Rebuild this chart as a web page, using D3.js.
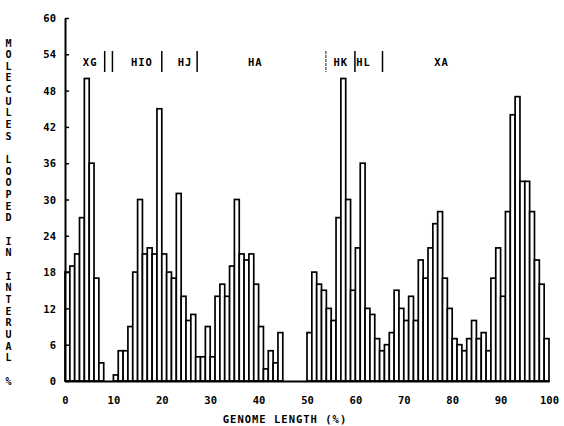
<!DOCTYPE html>
<meta charset="utf-8">
<body style="margin:0;background-color:white;">
<svg width="564" height="426"></svg>
<script src="https://d3js.org/d3.v7.min.js"></script>
<script>

// molecules looped in each 1% interval of the genome (bins 0-1, 1-2, ... 99-100)
var binStart = d3.range(0, 100);
var looped = [18, 19, 21, 27, 50, 36, 17, 3, 0, 0,
			  1, 5, 5, 9, 18, 30, 21, 22, 21, 45,
			  21, 18, 17, 31, 14, 10, 11, 4, 4, 9,
			  4, 14, 16, 14, 19, 30, 21, 20, 21, 16,
			  9, 2, 5, 3, 8, 0, 0, 0, 0, 0,
			  8, 18, 16, 15, 12, 10, 27, 50, 30, 15,
			  22, 36, 12, 11, 7, 5, 6, 8, 15, 12,
			  10, 14, 10, 20, 17, 22, 26, 28, 17, 12,
			  7, 6, 5, 7, 10, 7, 8, 5, 17, 22,
			  14, 28, 44, 47, 33, 33, 28, 20, 16, 7];

var yTicks = [0, 6, 12, 18, 24, 30, 36, 42, 48, 54, 60];
var xTicks = [0, 10, 20, 30, 40, 50, 60, 70, 80, 90, 100];

// map of the genome above the bars
var regionNames = ["XG", "HIO", "HJ", "HA", "HK", "HL", "XA"];
var regionCenters = [5.2, 15.9, 24.8, 39.3, 57.0, 61.7, 77.8];
var regionBorders = [8.2, 9.8, 20.0, 27.3, 53.9, 59.9, 65.6];
var dashedBorders = [53.9];

var yTitle = "MOLECULES LOOPED IN INTERUAL %";
var xTitle = "GENOME LENGTH (%)";

var svg = d3.select("svg");
var font = "'DejaVu Sans Mono', monospace";

var x = d3.scaleLinear().domain([0, 100]).range([65, 549]);
var y = d3.scaleLinear().domain([0, 60]).range([381, 18]);

// bars
svg.append('g')
	.selectAll('rect')
	.data(binStart.filter(function(d) { return looped[d] > 0; }))
	.enter().append('rect')
	.attr('x', function(d) { return x(d); })
	.attr('y', function(d) { return y(looped[d]); })
	.attr('width', function(d) { return x(d + 1) - x(d); })
	.attr('height', function(d) { return y(0) - y(looped[d]); })
	.attr('fill', 'white')
	.attr('stroke', 'black')
	.attr('stroke-width', 1.7);

// y axis, ticks pointing into the plot
var yAxis = svg.append('g')
	.attr('transform', 'translate(65,0)')
	.call(d3.axisLeft(y).tickValues(yTicks).tickSizeInner(-4).tickSizeOuter(0).tickPadding(9));

// x axis, baseline only
var xAxis = svg.append('g')
	.attr('transform', 'translate(0,381)')
	.call(d3.axisBottom(x).tickValues(xTicks).tickSize(0).tickPadding(16));

[yAxis, xAxis].forEach(function(ax) {
	ax.select('.domain').attr('stroke', 'black').attr('stroke-width', 2);
	ax.selectAll('.tick line').attr('stroke', 'black').attr('stroke-width', 1.5);
	ax.selectAll('.tick text')
		.attr('fill', 'black')
		.style('font-family', font)
		.style('font-weight', 'bold')
		.style('font-size', '10.5px');
});
yAxis.selectAll('.tick text').attr('dy', '0.35em');

// region labels and borders
svg.append('g')
	.selectAll('text')
	.data(regionNames)
	.enter().append('text')
	.attr('x', function(d, i) { return x(regionCenters[i]); })
	.attr('y', 62)
	.attr('dy', '0.35em')
	.attr('text-anchor', 'middle')
	.style('font-family', font)
	.style('font-weight', 'bold')
	.style('font-size', '10.5px')
	.style('letter-spacing', '1px')
	.text(function(d) { return d; });

svg.append('g')
	.selectAll('line')
	.data(regionBorders)
	.enter().append('line')
	.attr('x1', function(d) { return x(d); })
	.attr('x2', function(d) { return x(d); })
	.attr('y1', 51)
	.attr('y2', 72)
	.attr('stroke', function(d) { return dashedBorders.indexOf(d) >= 0 ? '#666' : 'black'; })
	.attr('stroke-dasharray', function(d) { return dashedBorders.indexOf(d) >= 0 ? '3,1' : null; })
	.attr('stroke-width', 1.5);

// vertical y title, one letter per line
svg.append('g')
	.selectAll('text')
	.data(yTitle.split(''))
	.enter().append('text')
	.attr('x', 8.5)
	.attr('y', function(d, i) { return 43 + i * 11.66; })
	.attr('dy', '0.35em')
	.attr('text-anchor', 'middle')
	.style('font-family', font)
	.style('font-weight', 'bold')
	.style('font-size', '10px')
	.text(function(d) { return d; });

// x title sits at the very bottom edge
svg.append('text')
	.attr('x', 285)
	.attr('y', 419)
	.attr('dy', '0.35em')
	.attr('text-anchor', 'middle')
	.style('font-family', font)
	.style('font-weight', 'bold')
	.style('font-size', '10.5px')
	.style('letter-spacing', '1px')
	.text(xTitle);

</script>
</body>
